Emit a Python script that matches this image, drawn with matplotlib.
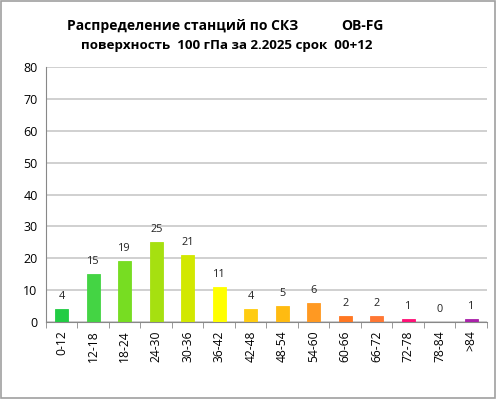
import matplotlib
matplotlib.use("Agg")
import matplotlib.pyplot as plt
from matplotlib.patches import Rectangle

categories = ["0-12", "12-18", "18-24", "24-30", "30-36", "36-42", "42-48",
              "48-54", "54-60", "60-66", "66-72", "72-78", "78-84", ">84"]
values = [4, 15, 19, 25, 21, 11, 4, 5, 6, 2, 2, 1, 0, 1]
colors = ["#22cc44", "#44d444", "#77dd22", "#a6e010", "#d2e800", "#ffff00", "#ffcc11",
          "#ffbb11", "#ff9922", "#ff7722", "#ff7733", "#ff1177", "#ffffff", "#aa22aa"]
title1 = "Распределение станций по СКЗ"
title2_right = "OB-FG"
title3 = "поверхность  100 гПа за 2.2025 срок  00+12"

plt.rcParams['font.family'] = ['Open Sans', 'DejaVu Sans']

fig = plt.figure(figsize=(4.96, 3.99), dpi=100)
fig.patches.append(Rectangle((0.002, 0.002), 0.995, 0.995, transform=fig.transFigure,
                             fill=False, edgecolor="#a0a0a0", linewidth=1.2))
ax = fig.add_axes([0.0927, 0.193, 0.889, 0.639])

x = range(len(categories))
bars = ax.bar(x, values, width=0.42, color=colors, edgecolor=[c for c in colors],
              linewidth=0.6, zorder=3)
for xi, v in zip(x, values):
    ax.text(xi, v + 2.2, str(v), ha="center", va="bottom", fontsize=7.8, color="#222222")

ax.set_xlim(-0.5, len(categories) - 0.5)
ax.set_ylim(0, 80)
ax.set_yticks(range(0, 81, 10))
ax.set_xticks(list(x))
ax.set_xticklabels(categories, rotation=90, fontsize=8.7)
ax.tick_params(axis='y', labelsize=9, length=0, pad=6)
ax.tick_params(axis='x', length=0, pad=6)
ax.set_xticks([i - 0.5 for i in range(len(categories) + 1)], minor=True)
ax.tick_params(axis='x', which='minor', length=4, color="#888888", direction='out')
ax.grid(axis='y', color="#c8c8c8", linewidth=1.2, zorder=0)
for s in ["top", "right"]:
    ax.spines[s].set_visible(False)
ax.spines["left"].set_color("#888888")
ax.spines["bottom"].set_color("#888888")

fig.text(0.368, 0.935, title1, ha="center", va="center", fontsize=10, fontweight="bold")
fig.text(0.731, 0.935, title2_right, ha="center", va="center", fontsize=10, fontweight="bold")
fig.text(0.457, 0.885, title3, ha="center", va="center", fontsize=9.6, fontweight="bold")

fig.savefig("out.png", dpi=100)
